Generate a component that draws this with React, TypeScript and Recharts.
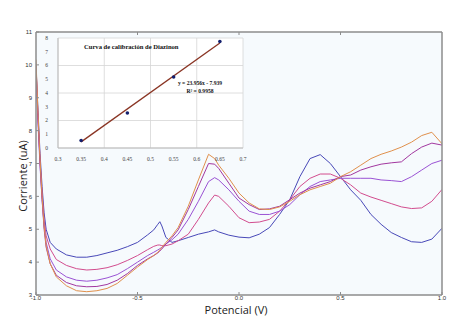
import React from 'react';
import {
  LineChart, Line, XAxis, YAxis, CartesianGrid, Label,
  ComposedChart, Scatter,
} from 'recharts';

// ---------- main voltammogram ----------
const potential = [-1, -0.99, -0.98, -0.97, -0.96, -0.95, -0.93, -0.9, -0.85, -0.8, -0.75, -0.7, -0.65, -0.6, -0.55, -0.5, -0.45, -0.42, -0.4, -0.39, -0.38, -0.36, -0.33, -0.3, -0.25, -0.2, -0.15, -0.12, -0.1, -0.05, 0, 0.05, 0.1, 0.15, 0.2, 0.25, 0.3, 0.35, 0.4, 0.45, 0.5, 0.55, 0.6, 0.65, 0.7, 0.75, 0.8, 0.85, 0.9, 0.95, 1.0];

const blueSeries = [10.0, 8.6, 7.3, 6.3, 5.5, 5.0, 4.6, 4.4, 4.22, 4.15, 4.15, 4.2, 4.28, 4.36, 4.47, 4.6, 4.83, 4.98, 5.15, 5.23, 5.1, 4.75, 4.6, 4.65, 4.75, 4.85, 4.92, 4.98, 4.92, 4.82, 4.76, 4.74, 4.85, 5.05, 5.45, 5.9, 6.6, 7.15, 7.27, 7.0, 6.6, 6.2, 5.88, 5.45, 5.15, 4.9, 4.75, 4.62, 4.6, 4.7, 5.03];

const pinkSeries = [9.9, 8.4, 7.1, 6.1, 5.3, 4.8, 4.4, 4.08, 3.9, 3.8, 3.76, 3.78, 3.83, 3.92, 4.05, 4.2, 4.38, 4.48, 4.52, 4.52, 4.5, 4.5, 4.55, 4.65, 4.85, 5.3, 5.8, 6.04, 6.0, 5.7, 5.35, 5.2, 5.22, 5.3, 5.55, 5.9, 6.3, 6.55, 6.68, 6.68, 6.55, 6.35, 6.1, 5.98, 5.88, 5.78, 5.68, 5.63, 5.65, 5.85, 6.21];

const violetSeries = [9.63, 8.2, 6.9, 5.9, 5.1, 4.6, 4.1, 3.76, 3.55, 3.45, 3.42, 3.45, 3.52, 3.62, 3.8, 4.0, 4.2, 4.3, 4.37, 4.41, 4.45, 4.55, 4.68, 4.85, 5.3, 5.85, 6.45, 6.57, 6.5, 6.2, 5.85, 5.55, 5.45, 5.45, 5.55, 5.75, 6.05, 6.3, 6.45, 6.5, 6.55, 6.55, 6.55, 6.55, 6.5, 6.48, 6.45, 6.6, 6.8, 7.0, 7.1];

const plumSeries = [10.0, 8.4, 7.0, 5.9, 5.0, 4.45, 3.95, 3.6, 3.38, 3.28, 3.25, 3.26, 3.32, 3.45, 3.65, 3.9, 4.1, 4.2, 4.28, 4.34, 4.4, 4.55, 4.75, 4.98, 5.6, 6.3, 7.0, 6.98, 6.85, 6.4, 5.95, 5.75, 5.6, 5.62, 5.7, 5.9, 6.1, 6.25, 6.35, 6.45, 6.6, 6.65, 6.8, 6.9, 6.98, 7.02, 7.05, 7.3, 7.5, 7.62, 7.56];

const orangeSeries = [10.16, 8.5, 7.1, 6.0, 5.1, 4.5, 3.95, 3.55, 3.28, 3.13, 3.1, 3.13, 3.2, 3.35, 3.6, 3.85, 4.08, 4.2, 4.3, 4.37, 4.45, 4.6, 4.8, 5.05, 5.7, 6.5, 7.28, 7.15, 6.95, 6.55, 6.1, 5.8, 5.62, 5.6, 5.68, 5.85, 6.05, 6.2, 6.3, 6.4, 6.6, 6.75, 6.95, 7.15, 7.28, 7.38, 7.5, 7.65, 7.85, 7.95, 7.6];

const xTicks = [-1, -0.5, 0, 0.5, 1];
const xTickLabels = ['-1.0', '-0.5', '0.0', '0.5', '1.0'];
const yTicks = [3, 4, 5, 6, 7, 8, 9, 10, 11];

// ---------- inset calibration curve ----------
const calConc = [0.35, 0.45, 0.55, 0.65];
const calSignal = [0.55, 2.55, 5.16, 7.75];
const trendX = [0.35, 0.65];
const trendY = [0.446, 7.632];
const insetXTicks = [0.3, 0.35, 0.4, 0.45, 0.5, 0.55, 0.6, 0.65, 0.7];
const insetYTicks = [0, 1, 2, 3, 4, 5, 6, 7, 8];

const mainData = potential.map((x, i) => ({
  x,
  blue: blueSeries[i],
  pink: pinkSeries[i],
  violet: violetSeries[i],
  plum: plumSeries[i],
  orange: orangeSeries[i],
}));
const calData = calConc.map((x, i) => ({ x, y: calSignal[i] }));
const trendData = trendX.map((x, i) => ({ x, t: trendY[i] }));

const AXIS = '#8c8c8c';
const tickFont = { fontSize: 6, fill: '#333', fontFamily: 'Liberation Sans, Arial, sans-serif' };
const insetTickFont = { fontSize: 5.5, fill: '#444', fontFamily: 'Liberation Serif, serif' };

export default function App() {
  return (
    <div style={{ position: 'absolute', left: 0, top: 0, width: 468, height: 323, background: '#fff' }}>
      <LineChart width={468} height={323} data={mainData} margin={{ top: 0, right: 0, bottom: 0, left: 0 }}>
        <CartesianGrid horizontal={false} vertical={false} fill="#f6fafd" />
        <XAxis
          dataKey="x" type="number" domain={[-1, 1]} ticks={xTicks}
          tickFormatter={(v) => xTickLabels[xTicks.indexOf(v)] ?? String(v)}
          height={28} tick={tickFont} tickSize={-3} tickMargin={4}
          axisLine={{ stroke: AXIS, strokeWidth: 1.5 }} tickLine={{ stroke: AXIS }}
          allowDataOverflow
        >
          <Label
            content={() => (
              <text x={236} y={314} textAnchor="middle" fontSize={11} fill="#222" fontFamily="Open Sans, sans-serif">
                Potencial (V)
              </text>
            )}
          />
        </XAxis>
        <XAxis
          xAxisId="top" orientation="top" dataKey="x" type="number" domain={[-1, 1]} ticks={[-0.5, 0, 0.5]}
          tickFormatter={() => ''} height={32} tickSize={-3}
          axisLine={{ stroke: AXIS, strokeWidth: 1.5 }} tickLine={{ stroke: AXIS }}
        />
        <YAxis
          type="number" domain={[3, 11]} ticks={yTicks} width={36} tick={tickFont}
          tickSize={-3} tickMargin={7} allowDataOverflow
          axisLine={{ stroke: AXIS, strokeWidth: 1.5 }} tickLine={{ stroke: AXIS }}
        >
          <Label
            content={() => (
              <text x={27} y={176} transform="rotate(-90 27 176)" textAnchor="middle" fontSize={11} fill="#222" fontFamily="Open Sans, sans-serif">
                Corriente (uA)
              </text>
            )}
          />
        </YAxis>
        <YAxis
          yAxisId="right" orientation="right" type="number" domain={[3, 11]} ticks={[4, 5, 6, 7, 8, 9, 10]}
          tickFormatter={() => ''} width={26} tickSize={-3}
          axisLine={{ stroke: AXIS, strokeWidth: 1.5 }} tickLine={{ stroke: AXIS }}
        />
        <Line dataKey="blue" stroke="#4848b8" strokeWidth={1} dot={false} isAnimationActive={false} />
        <Line dataKey="pink" stroke="#d24c8e" strokeWidth={1} dot={false} isAnimationActive={false} />
        <Line dataKey="violet" stroke="#9a52d4" strokeWidth={1} dot={false} isAnimationActive={false} />
        <Line dataKey="plum" stroke="#a2379f" strokeWidth={1} dot={false} isAnimationActive={false} />
        <Line dataKey="orange" stroke="#e0904c" strokeWidth={1} dot={false} isAnimationActive={false} />
      </LineChart>

      <div style={{ position: 'absolute', left: 42, top: 33, width: 208, height: 131 }}>
        <ComposedChart width={208} height={131} margin={{ top: 5, right: 7, bottom: 0, left: 0 }}>
          <CartesianGrid stroke="#d6d6d6" strokeWidth={0.8} fill="#ffffff" />
          <XAxis
            dataKey="x" type="number" domain={[0.3, 0.7]} ticks={insetXTicks} height={16}
            tick={insetTickFont} tickLine={false} axisLine={{ stroke: '#bbb' }} tickMargin={3}
            tickFormatter={(v) => String(Number(v.toFixed(2)))}
          />
          <YAxis
            type="number" domain={[0, 8]} ticks={insetYTicks} width={16}
            tick={insetTickFont} tickLine={false} axisLine={{ stroke: '#bbb' }} tickMargin={4}
          />
          <Line data={trendData} dataKey="t" stroke="#8a3524" strokeWidth={1.3} dot={false} isAnimationActive={false} />
          <Scatter data={calData} dataKey="y" fill="#14206e" isAnimationActive={false}
            shape={(p: any) => <circle cx={p.cx} cy={p.cy} r={1.8} fill="#14206e" />} />
          <Label
            content={() => (
              <g fontFamily="Liberation Serif, serif" fontWeight="bold" fill="#111">
                <text x={42} y={16} fontSize={6.6}>Curva de calibración de Diazinon</text>
                <text x={158} y={52} fontSize={5.6} textAnchor="middle">y = 23.956x - 7.939</text>
                <text x={158} y={59.5} fontSize={5.6} textAnchor="middle">R² = 0.9958</text>
              </g>
            )}
          />
        </ComposedChart>
      </div>
    </div>
  );
}
